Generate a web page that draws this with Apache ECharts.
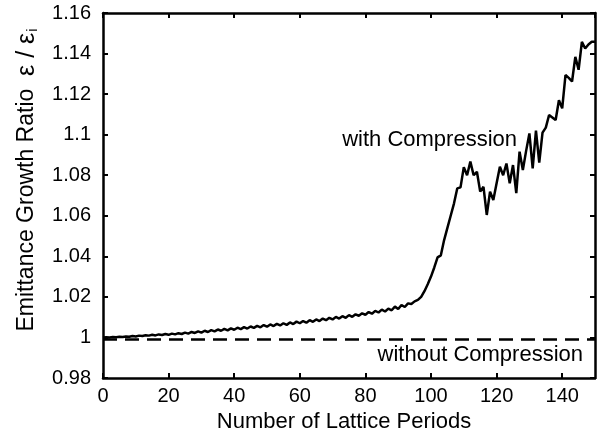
<!DOCTYPE html>
<html>
<head>
<meta charset="utf-8">
<script src="https://cdn.jsdelivr.net/npm/echarts@6/dist/echarts.min.js"></script>
<style>
    html, body { margin: 0; padding: 0; background: #fff; }
    #chart { width: 602px; height: 438px; }
</style>
</head>
<body>
<div id="chart"></div>
<script>
// emittance growth ratio per lattice period (period = index)
const withCompression = [
    1.0000, 1.0001, 1.0000, 1.0002, 1.0001, 1.0003, 1.0002, 1.0005, 1.0003, 1.0007,
    1.0005, 1.0009, 1.0007, 1.0011, 1.0009, 1.0013, 1.0010, 1.0015, 1.0012, 1.0017,
    1.0013, 1.0019, 1.0015, 1.0021, 1.0017, 1.0024, 1.0019, 1.0027, 1.0022, 1.0030,
    1.0024, 1.0033, 1.0027, 1.0036, 1.0030, 1.0039, 1.0033, 1.0042, 1.0035, 1.0045,
    1.0038, 1.0048, 1.0041, 1.0051, 1.0044, 1.0054, 1.0047, 1.0057, 1.0050, 1.0061,
    1.0053, 1.0064, 1.0056, 1.0067, 1.0059, 1.0070, 1.0062, 1.0074, 1.0066, 1.0078,
    1.0070, 1.0081, 1.0073, 1.0085, 1.0077, 1.0089, 1.0081, 1.0093, 1.0085, 1.0097,
    1.0089, 1.0101, 1.0093, 1.0105, 1.0097, 1.0110, 1.0102, 1.0114, 1.0107, 1.0119,
    1.0112, 1.0125, 1.0117, 1.0131, 1.0123, 1.0137, 1.0128, 1.0142, 1.0134, 1.0152,
    1.0140, 1.0160, 1.0150, 1.0168, 1.0165, 1.0178, 1.0185, 1.0200, 1.0228, 1.0262,
    1.0300, 1.0345, 1.0395, 1.0405, 1.0480, 1.0540, 1.0600, 1.0660, 1.0735, 1.0740,
    1.0840, 1.0800, 1.0867, 1.0800, 1.0817, 1.0719, 1.0743, 1.0604, 1.0719, 1.0678,
    1.0760, 1.0842, 1.0800, 1.0858, 1.0760, 1.0850, 1.0712, 1.0916, 1.0826, 1.0920,
    1.1006, 1.0834, 1.1020, 1.0862, 1.1010, 1.1035, 1.1097, 1.1085, 1.1072, 1.1170,
    1.1130, 1.1294, 1.1280, 1.1262, 1.1384, 1.1320, 1.1458, 1.1425, 1.1445, 1.1458,
    1.1458
];

// without compression: flat line
const flatPeriods = [0, 150];
const withoutCompression = [0.999, 0.999];

const xTicks = [0, 20, 40, 60, 80, 100, 120, 140];
const yTicks = [0.98, 1, 1.02, 1.04, 1.06, 1.08, 1.1, 1.12, 1.14, 1.16];

const font = '"Liberation Sans", Arial, sans-serif';

let lineData = withCompression.map((v, i) => [i, v]);
let flatData = flatPeriods.map((p, i) => [p, withoutCompression[i]]);

let frameAxis = {
    axisLine: { show: true, onZero: false, lineStyle: { color: '#000', width: 2.5 } },
    axisTick: { show: true, inside: true, length: 5, lineStyle: { color: '#000', width: 2 } },
    splitLine: { show: false },
};

const chart = echarts.init(document.getElementById('chart'), null, { renderer: 'canvas' });
chart.setOption({
    animation: false,
    backgroundColor: '#fff',
    grid: { left: 103, right: 7, top: 13, bottom: 60 },
    xAxis: [
        Object.assign({
            type: 'value',
            min: 0,
            max: 150,
            interval: 20,
            position: 'bottom',
            name: 'Number of Lattice Periods',
            nameLocation: 'middle',
            nameGap: 27,
            nameTextStyle: { fontFamily: font, fontSize: 22, color: '#000', padding: [0, 10, 0, 0] },
            axisLabel: {
                fontFamily: font, fontSize: 20, color: '#000', margin: 8,
                showMaxLabel: false,
            },
        }, frameAxis),
        Object.assign({
            type: 'value',
            min: 0,
            max: 150,
            interval: 20,
            position: 'top',
            axisLabel: { show: false },
        }, frameAxis),
    ],
    yAxis: [
        Object.assign({
            type: 'value',
            min: yTicks[0],
            max: yTicks[yTicks.length - 1],
            interval: 0.02,
            position: 'left',
            axisLabel: {
                fontFamily: font, fontSize: 20, color: '#000', margin: 12,
                formatter: (v) => String(+v.toFixed(2)),
            },
        }, frameAxis),
        Object.assign({
            type: 'value',
            min: yTicks[0],
            max: yTicks[yTicks.length - 1],
            interval: 0.02,
            position: 'right',
            axisLabel: { show: false },
        }, frameAxis),
    ],
    graphic: [
        {
            type: 'text',
            x: 27,
            y: 180,
            rotation: Math.PI / 2,
            style: {
                text: '{n|Emittance Growth Ratio  }{e|ε / ε}{s|i}',
                align: 'center',
                verticalAlign: 'middle',
                fill: '#000',
                rich: {
                    n: { fontFamily: font, fontSize: 23, fill: '#000' },
                    e: { fontFamily: font, fontSize: 25, fill: '#000' },
                    s: { fontFamily: font, fontSize: 15, fill: '#000', padding: [12, 0, 0, 1] },
                },
            },
        },
        {
            type: 'text',
            x: 517,
            y: 140,
            style: {
                text: 'with Compression',
                align: 'right',
                verticalAlign: 'middle',
                fontFamily: font,
                fontSize: 22,
                fill: '#000',
            },
        },
        {
            type: 'text',
            x: 583,
            y: 355,
            style: {
                text: 'without Compression',
                align: 'right',
                verticalAlign: 'middle',
                fontFamily: font,
                fontSize: 22,
                fill: '#000',
            },
        },
    ],
    series: [
        {
            name: 'with Compression',
            type: 'line',
            data: lineData,
            showSymbol: false,
            lineStyle: { color: '#000', width: 2.5 },
            z: 3,
        },
        {
            name: 'without Compression',
            type: 'line',
            data: flatData,
            showSymbol: false,
            lineStyle: { color: '#000', width: 2.5, type: [14, 8] },
            z: 2,
        },
    ],
});
</script>
</body>
</html>
